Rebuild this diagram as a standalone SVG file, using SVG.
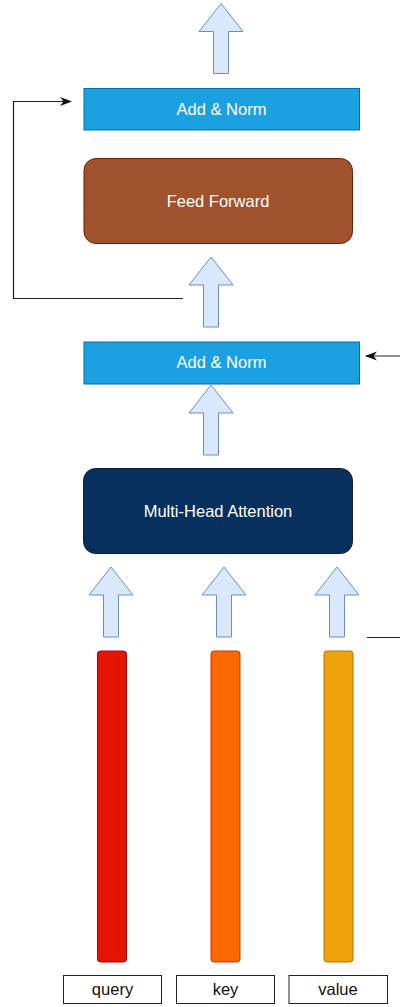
<svg xmlns="http://www.w3.org/2000/svg" width="400" height="1007" viewBox="0 0 400 1007">
  <defs>
    <style>
      .lbl { font-family: "Liberation Sans", Arial, sans-serif; font-size: 16.5px; text-anchor: middle; }
      .white { fill: #ffffff; }
      .dark { fill: #111111; }
      .norm { fill: #1BA1E2; stroke: #006EAF; stroke-width: 1; }
      .flow { fill: #DAE8FC; stroke: #6C8EBF; stroke-width: 1; }
      .tag { fill: #ffffff; stroke: #222222; stroke-width: 1; }
      .wire { fill: none; stroke: #222222; stroke-width: 1.2; }
    </style>
    <marker id="head" viewBox="0 0 12 10" refX="11" refY="5" markerWidth="12" markerHeight="10" markerUnits="userSpaceOnUse" orient="auto">
      <path d="M0,0.5 L12,5 L0,9.5 L3.5,5 Z" fill="#111111"/>
    </marker>
    <!-- block arrow pointing up, tip at origin -->
    <path id="upArrow" d="M0,0 L22,28 L7.5,28 L7.5,70 L-7.5,70 L-7.5,28 L-22,28 Z"/>
  </defs>

  <!-- connectors -->
  <g id="connectors">
    <use href="#upArrow" class="flow" transform="translate(221,3.5)"/>
    <path class="wire" d="M183,298.5 L13.5,298.5 L13.5,101.5 L71,101.5" marker-end="url(#head)"/>
    <use href="#upArrow" class="flow" transform="translate(211,257)"/>
    <path class="wire" d="M400,356 L366,356" marker-end="url(#head)"/>
    <use href="#upArrow" class="flow" transform="translate(211,385)"/>
    <use href="#upArrow" class="flow" transform="translate(111,567)"/>
    <use href="#upArrow" class="flow" transform="translate(224,567)"/>
    <use href="#upArrow" class="flow" transform="translate(337,567)"/>
    <path class="wire" d="M367,637.5 L400,637.5"/>
  </g>

  <g id="add-norm-top">
    <rect class="norm" x="84" y="88.5" width="275.5" height="41.5"/>
    <text class="lbl white" x="221.5" y="115">Add &amp; Norm</text>
  </g>

  <g id="feed-forward">
    <rect x="84" y="158.5" width="268.5" height="85" rx="12" fill="#A0522D" stroke="#6D1F00"/>
    <text class="lbl white" x="218" y="206.5">Feed Forward</text>
  </g>

  <g id="add-norm-bottom">
    <rect class="norm" x="84" y="342" width="275.5" height="42"/>
    <text class="lbl white" x="221.5" y="368">Add &amp; Norm</text>
  </g>

  <g id="multi-head-attention">
    <rect x="83.5" y="468.5" width="269" height="85" rx="12" fill="#07305E" stroke="#1a1a2a"/>
    <text class="lbl white" x="218" y="516.5">Multi-Head Attention</text>
  </g>

  <g id="query">
    <rect x="97.5" y="651" width="29" height="311" rx="3" fill="#E51400" stroke="#B20000"/>
    <rect class="tag" x="63.5" y="975.5" width="98" height="28"/>
    <text class="lbl dark" x="112.5" y="995">query</text>
  </g>

  <g id="key">
    <rect x="211" y="651" width="29" height="311" rx="3" fill="#FA6800" stroke="#C73500"/>
    <rect class="tag" x="176.5" y="975.5" width="98" height="28"/>
    <text class="lbl dark" x="225.5" y="995">key</text>
  </g>

  <g id="value">
    <rect x="324" y="651" width="29" height="311" rx="3" fill="#F0A30A" stroke="#BD7000"/>
    <rect class="tag" x="289" y="975.5" width="98.5" height="28"/>
    <text class="lbl dark" x="338" y="995">value</text>
  </g>
</svg>
